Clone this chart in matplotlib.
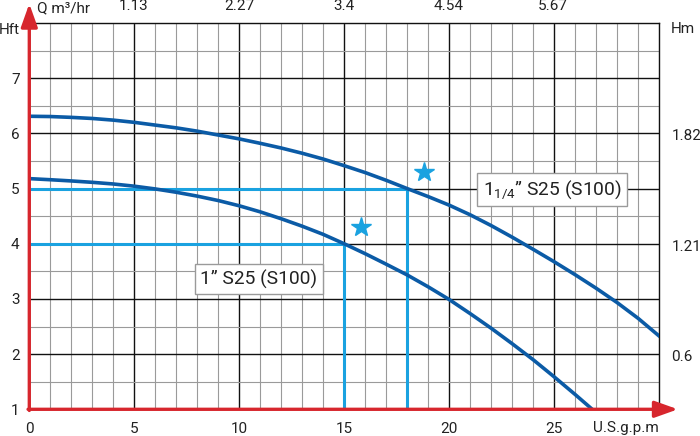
import matplotlib.pyplot as plt

plt.rcParams['font.family'] = ['Roboto', 'DejaVu Sans']
plt.rcParams['mathtext.fontset'] = 'custom'
plt.rcParams['mathtext.rm'] = 'Roboto'
plt.rcParams['mathtext.it'] = 'Roboto:italic'
plt.rcParams['mathtext.bf'] = 'Roboto:bold'

# pump curves, flow in US gpm, head in ft
q_big = list(range(0, 31))
h_big = [6.31, 6.305, 6.29, 6.27, 6.24, 6.20, 6.15, 6.10, 6.04, 5.97, 5.90,
         5.82, 5.735, 5.64, 5.535, 5.415, 5.29, 5.15, 5.0, 4.855, 4.70,
         4.525, 4.33, 4.12, 3.90, 3.675, 3.44, 3.195, 2.935, 2.65, 2.33]
q_small = list(range(0, 28))
h_small = [5.18, 5.16, 5.138, 5.113, 5.083, 5.043, 4.993, 4.933, 4.863, 4.783,
           4.688, 4.578, 4.453, 4.318, 4.17, 4.0, 3.82, 3.63, 3.435, 3.22,
           2.99, 2.735, 2.47, 2.19, 1.90, 1.59, 1.27, 0.94]

# duty points and stars
duty_q = [18, 15]
duty_h = [5, 4]
star_q = [18.8, 15.8]
star_h = [5.3, 4.31]

labels = ['1$_{\\mathregular{1/4}}$\u201d S25 (S100)', '1\u201d S25 (S100)']

gpm_ticks = [0, 5, 10, 15, 20, 25]
hft_ticks = [1, 2, 3, 4, 5, 6, 7]
m3h_ticks = [1.13, 2.27, 3.4, 4.54, 5.67]
hm_ticks = [0.6, 1.21, 1.82]

RED = '#d7262d'
DARK = '#0b5ba6'
LIGHT = '#1aa2e0'
TXT = '#222222'

fig = plt.figure(figsize=(7, 4.36), dpi=100)
ax = fig.add_axes([29.3/700, 1 - 409.3/436, (659 - 29.3)/700, (409.3 - 23)/436])
ax.set_xlim(0, 30)
ax.set_ylim(1, 8)

ax.set_xticks(gpm_ticks)
ax.set_xticks(range(0, 31), minor=True)
ax.set_yticks(hft_ticks)
ax.set_yticks([1 + 0.5*i for i in range(15)], minor=True)
ax.grid(which='minor', color='#9a9a9a', lw=0.8, zorder=0)
ax.grid(which='major', color='#111111', lw=1.0, zorder=0)
ax.set_axisbelow(True)
ax.tick_params(which='both', length=0, labelsize=11, labelcolor=TXT)
ax.tick_params(axis='x', pad=9)
ax.tick_params(axis='y', pad=7)
for s in ['left', 'bottom']:
    ax.spines[s].set_visible(False)
for s in ['top', 'right']:
    ax.spines[s].set_color('#111111')
    ax.spines[s].set_linewidth(1.0)

# secondary scales
top = ax.secondary_xaxis('top', functions=(lambda q: q*0.227124, lambda m: m/0.227124))
top.set_xticks(m3h_ticks)
top.set_xticklabels([str(v) for v in m3h_ticks])
top.tick_params(length=0, pad=7, labelsize=11, labelcolor=TXT)
right = ax.secondary_yaxis('right', functions=(lambda h: h*0.3048, lambda m: m/0.3048))
right.set_yticks(hm_ticks)
right.set_yticklabels([str(v) for v in hm_ticks])
right.tick_params(length=0, pad=9, labelsize=11, labelcolor=TXT)
for a in (top, right):
    for s in a.spines.values():
        s.set_visible(False)

# duty lines
for q, h in zip(duty_q, duty_h):
    ax.plot([0, q], [h, h], color=LIGHT, lw=2.2, zorder=3, solid_capstyle='butt')
    ax.plot([q, q], [1, h], color=LIGHT, lw=2.2, zorder=3, solid_capstyle='butt')

ax.plot(q_big, h_big, color=DARK, lw=2.6, zorder=4)
ax.plot(q_small, h_small, color=DARK, lw=2.6, zorder=4)
ax.plot(star_q, star_h, ls='none', marker='*', ms=15, color=LIGHT, mec=LIGHT, zorder=5)

box = dict(boxstyle='square,pad=0.28', fc='white', ec='#9a9a9a', lw=1)
ax.text(24.9, 4.98, labels[0], fontsize=13.8, color=TXT, ha='center', va='center',
        bbox=box, zorder=6)
ax.text(10.94, 3.36, labels[1], fontsize=13.8, color=TXT, ha='center', va='center',
        bbox=box, zorder=6)

# unit labels
ax.text(0.35, 1 + 15/386, 'Q m\u00b3/hr', transform=ax.get_xaxis_transform(),
        fontsize=11, color=TXT, ha='left', va='center')
ax.text(30, -19/386, 'U.S.g.p.m', transform=ax.get_xaxis_transform(),
        fontsize=11, color=TXT, ha='right', va='center')
ax.text(-0.031, 7.88, 'Hft', transform=ax.get_yaxis_transform(),
        fontsize=11, color=TXT, ha='center', va='center')
ax.text(1.038, 7.9, 'Hm', transform=ax.get_yaxis_transform(),
        fontsize=11, color=TXT, ha='center', va='center')

# red axis arrows
arrow = dict(arrowstyle='-|>,head_length=1.4,head_width=0.5', color=RED, lw=2.4,
             mutation_scale=10, shrinkA=0, shrinkB=0)
ax.annotate('', xy=(0, 1.05), xytext=(0, -0.003), xycoords='axes fraction',
            arrowprops=arrow, annotation_clip=False, zorder=7)
ax.annotate('', xy=(1.03, 0), xytext=(-0.002, 0), xycoords='axes fraction',
            arrowprops=arrow, annotation_clip=False, zorder=7)

fig.savefig('out.png', dpi=100)
